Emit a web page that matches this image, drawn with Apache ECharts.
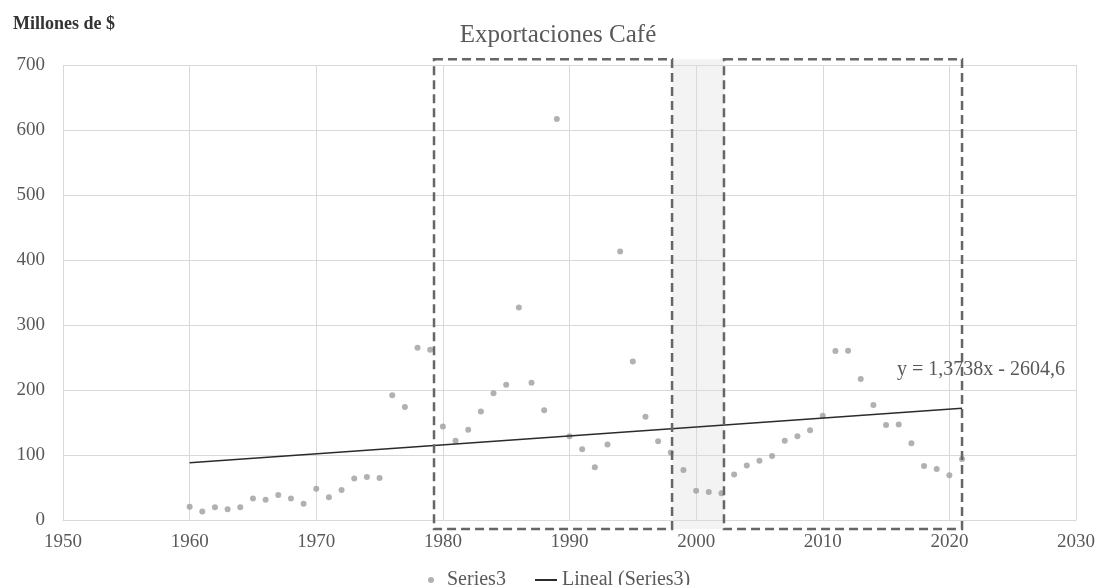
<!DOCTYPE html>
<html>
<head>
<meta charset="utf-8">
<script src="https://cdn.jsdelivr.net/npm/echarts@6/dist/echarts.min.js"></script>
<style>
  html, body { margin: 0; padding: 0; background: #fff; }
  #chart { width: 1101px; height: 585px; }
</style>
</head>
<body>
<div id="chart"></div>
<script>
// ---- data ----
const years = [1960,1961,1962,1963,1964,1965,1966,1967,1968,1969,
               1970,1971,1972,1973,1974,1975,1976,1977,1978,1979,
               1980,1981,1982,1983,1984,1985,1986,1987,1988,1989,
               1990,1991,1992,1993,1994,1995,1996,1997,1998,1999,
               2000,2001,2002,2003,2004,2005,2006,2007,2008,2009,
               2010,2011,2012,2013,2014,2015,2016,2017,2018,2019,
               2020,2021];
const exportsValues = [20.5,13,19.5,16.5,19.5,33,31,38.5,33,25,
                       48,35,46,64,66,64.5,192,174,265,262,
                       144,122,139,167,195,208,327,211,169,617,
                       129,109,81,116,413,244,159,121,104,77,
                       45,43,41,70,84,91,98.5,122,129,138,
                       160.5,260,260.5,217,177,146,147,118,83,78.5,
                       69,94];
const trendYears = [1960, 2021];
const trendValues = [88.0, 171.9];
const xTicks = [1950, 2030, 10];   // min, max, step
const yTicks = [0, 700, 100];
const trendEquation = 'y = 1,3738x - 2604,6';
const titleText = 'Exportaciones Café';
const unitText = 'Millones de $';
const seriesName = 'Series3';
const trendName = 'Lineal (Series3)';
// annotation boxes (in axis units)
const boxesYears = [[1979.3, 1998.1], [2002.2, 2021.0]];
const bandYears = [1998.1, 2002.2];
const boxValueRange = [-14, 709];
const equationAnchor = [2022.5, 231];

const FONT = '"Liberation Serif", "Times New Roman", serif';
const TXT = '#595959';
const GRIDC = '#d9d9d9';
const DOT = '#9e9e9e';
const TREND = '#2b2b2b';

const chart = echarts.init(document.getElementById('chart'), null, {renderer: 'canvas'});

const scatterData = years.map((y, i) => [y, exportsValues[i]]);
const trendData = trendYears.map((y, i) => [y, trendValues[i]]);

chart.setOption({
  animation: false,
  backgroundColor: '#ffffff',
  textStyle: { fontFamily: FONT },
  grid: { left: 63, right: 25, top: 65, bottom: 65, containLabel: false },
  xAxis: {
    type: 'value', min: xTicks[0], max: xTicks[1], interval: xTicks[2],
    axisLine: { show: true, lineStyle: { color: GRIDC, width: 1 } },
    axisTick: { show: false },
    axisLabel: { color: TXT, fontSize: 19, fontFamily: FONT, margin: 13, formatter: v => String(v) },
    splitLine: { show: true, lineStyle: { color: GRIDC, width: 1 } }
  },
  yAxis: {
    type: 'value', min: yTicks[0], max: yTicks[1], interval: yTicks[2],
    axisLine: { show: false },
    axisTick: { show: false },
    axisLabel: { color: TXT, fontSize: 19, fontFamily: FONT, margin: 18, formatter: v => String(v) },
    splitLine: { show: true, lineStyle: { color: GRIDC, width: 1 } }
  },
  legend: [
    {
      left: 423, top: 565,
      itemWidth: 22, itemHeight: 6,
      textStyle: { color: TXT, fontSize: 20, fontFamily: FONT },
      data: [{ name: seriesName, icon: 'circle', itemStyle: { color: DOT } }]
    },
    {
      left: 530, top: 565,
      itemWidth: 22, itemHeight: 2,
      textStyle: { color: TXT, fontSize: 20, fontFamily: FONT },
      data: [{ name: trendName, icon: 'rect', itemStyle: { color: TREND } }]
    }
  ],
  series: [
    {
      name: seriesName, type: 'scatter', data: scatterData,
      symbol: 'circle', symbolSize: 6, z: 3,
      itemStyle: { color: DOT }
    },
    {
      name: trendName, type: 'line', data: trendData,
      symbol: 'none', showSymbol: false, z: 4,
      lineStyle: { color: TREND, width: 1.5 },
      itemStyle: { color: TREND }
    }
  ]
});

function px(pt) { return chart.convertToPixel({ gridIndex: 0 }, pt); }

const graphics = [];
// shaded band
{
  const a = px([bandYears[0], boxValueRange[1]]);
  const b = px([bandYears[1], boxValueRange[0]]);
  graphics.push({
    type: 'rect', z: -10, silent: true,
    shape: { x: a[0], y: a[1], width: b[0] - a[0], height: b[1] - a[1] },
    style: { fill: 'rgba(235,235,235,0.6)' }
  });
}
// dashed boxes
boxesYears.forEach(bx => {
  const a = px([bx[0], boxValueRange[1]]);
  const b = px([bx[1], boxValueRange[0]]);
  graphics.push({
    type: 'rect', z: 20, silent: true,
    shape: { x: a[0], y: a[1], width: b[0] - a[0], height: b[1] - a[1] },
    style: { fill: null, stroke: '#666666', lineWidth: 2.5, lineDash: [9, 5] }
  });
});
// equation label
{
  const p = px(equationAnchor);
  graphics.push({
    type: 'text', z: 30, silent: true, x: p[0], y: p[1],
    style: { text: trendEquation, fill: TXT, font: '20px ' + FONT, align: 'center', verticalAlign: 'middle' }
  });
}
// title
graphics.push({
  type: 'text', z: 30, silent: true, x: 558, y: 35,
  style: { text: titleText, fill: TXT, font: '25px ' + FONT, align: 'center', verticalAlign: 'middle' }
});
// unit label
graphics.push({
  type: 'text', z: 30, silent: true, x: 13, y: 24,
  style: { text: unitText, fill: '#333333', font: 'bold 18px ' + FONT, align: 'left', verticalAlign: 'middle' }
});

chart.setOption({ graphic: graphics });
</script>
</body>
</html>
